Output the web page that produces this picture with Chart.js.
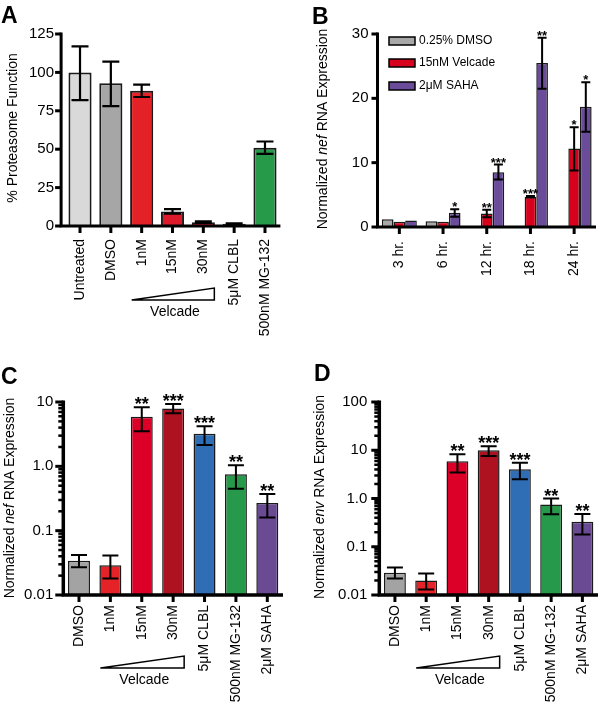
<!DOCTYPE html>
<html>
<head>
<meta charset="utf-8">
<script src="https://cdn.jsdelivr.net/npm/chart.js@4.4.1/dist/chart.umd.min.js"></script>
<style>
    body { margin: 0; background: #fff; width: 600px; height: 705px; position: relative; overflow: hidden; }
    canvas { position: absolute; }
    .letter { position: absolute; font: bold 23px Arial, "Liberation Sans", Helvetica, sans-serif; line-height: 23px; color: #000; }
</style>
</head>
<body>
<canvas id="chart-a" width="300" height="340" style="left:0;top:0"></canvas>
<canvas id="chart-b" width="310" height="330" style="left:300px;top:0"></canvas>
<canvas id="chart-c" width="300" height="375" style="left:0;top:330px"></canvas>
<canvas id="chart-d" width="310" height="375" style="left:300px;top:330px"></canvas>
<div class="letter" style="left:1px;top:4px">A</div>
<div class="letter" style="left:312px;top:5px">B</div>
<div class="letter" style="left:1px;top:365px">C</div>
<div class="letter" style="left:314px;top:362px">D</div>
<script>
var FONT = 'Arial, "Liberation Sans", Helvetica, sans-serif';

// ---- A: proteasome function
var labelsA = ['Untreated', 'DMSO', '1nM', '15nM', '30nM', '5\u03bcM CLBL', '500nM MG-132'];
var proteasomeA = [100, 93, 88, 9.5, 2.5, 1.5, 51];
var proteasomeLoA = [82, 78, 84, 8, 2, 1.2, 47];
var proteasomeHiA = [117, 107, 92, 11, 3, 1.8, 55];
var colorsA = ['#d9d9d9', '#a6a6a6', '#e42127', '#dc1a2a', '#c8142c', '#2f6db5', '#279a4a'];
var yTicksA = [0, 25, 50, 75, 100, 125];

// ---- B: nef time course
var timesB = ['3 hr.', '6 hr.', '12 hr.', '18 hr.', '24 hr.'];
var dmsoB = [1.2, 0.9, null, null, null];
var velcadeB = [0.8, 0.8, 2.1, 4.7, 12.2];
var velcadeLoB = [null, null, 1.5, 4.6, 8.8];
var velcadeHiB = [null, null, 2.7, 4.8, 15.5];
var velcadeStarsB = ['', '', '**', '***', '*'];
var sahaB = [1.0, 2.2, 8.5, 25.5, 18.7];
var sahaLoB = [null, 1.6, 7.4, 21.5, 14.8];
var sahaHiB = [null, 2.75, 9.7, 29.4, 22.5];
var sahaStarsB = ['', '*', '***', '**', '*'];
var yTicksB = [0, 10, 20, 30];

// ---- C / D: nef and env RNA
var labelsCD = ['DMSO', '1nM', '15nM', '30nM', '5\u03bcM CLBL', '500nM MG-132', '2\u03bcM SAHA'];
var colorsCD = ['#a3a3a3', '#e52228', '#dc0029', '#ae1120', '#2f6db5', '#27994a', '#6a4a93'];
var starsCD = ['', '', '**', '***', '***', '**', '**'];
var nefC = [0.034, 0.029, 5.9, 7.9, 3.2, 0.75, 0.27];
var nefLoC = [0.027, 0.018, 3.5, 6.7, 2.15, 0.45, 0.16];
var nefHiC = [0.042, 0.041, 8.3, 9.3, 4.2, 1.04, 0.37];
var decadesC = [0.01, 0.1, 1, 10];
var decadeLabelsC = ['0.01', '0.1', '1.0', '10'];
var envD = [0.029, 0.020, 5.9, 10, 4.05, 0.75, 0.33];
var envLoD = [0.022, 0.013, 3.45, 7.6, 2.5, 0.47, 0.18];
var envHiD = [0.037, 0.028, 8.3, 12.1, 5.5, 1.0, 0.48];
var decadesD = [0.01, 0.1, 1, 10, 100];
var decadeLabelsD = ['0.01', '0.1', '1.0', '10', '100'];

function logTickValues(decades) {
    var out = [];
    for (var d = 0; d < decades.length - 1; d++) {
        for (var k = 1; k < 10; k++) {
            out.push(parseFloat((decades[d] * k).toPrecision(6)));
        }
    }
    out.push(decades[decades.length - 1]);
    return out;
}

function drawTitle(ctx, x, y, parts) {
    ctx.save();
    ctx.translate(x, y);
    ctx.rotate(-Math.PI / 2);
    ctx.textBaseline = 'middle';
    ctx.textAlign = 'left';
    var total = 0;
    parts.forEach(function (p) {
        ctx.font = (p.italic ? 'italic ' : '') + '14px ' + FONT;
        p.w = ctx.measureText(p.text).width;
        total += p.w;
    });
    var pos = -total / 2;
    parts.forEach(function (p) {
        ctx.font = (p.italic ? 'italic ' : '') + '14px ' + FONT;
        ctx.fillText(p.text, pos, 0);
        pos += p.w;
    });
    ctx.restore();
}

function panelDecor(cfg) {
    return {
        id: 'decor',
        afterDatasetsDraw: function (chart) {
            var ctx = chart.ctx, area = chart.chartArea;
            var xs = chart.scales.x, ys = chart.scales.y;
            ctx.save();
            ctx.strokeStyle = '#000';
            ctx.fillStyle = '#000';

            // error bars and significance stars
            chart.data.datasets.forEach(function (ds, di) {
                chart.getDatasetMeta(di).data.forEach(function (bar, i) {
                    if (ds.data[i] == null) return;
                    var top = bar.y;
                    if (ds.errHi && ds.errHi[i] != null) {
                        var yh = ys.getPixelForValue(ds.errHi[i]);
                        var yl = ys.getPixelForValue(ds.errLo[i]);
                        ctx.lineWidth = cfg.errWidth;
                        ctx.beginPath();
                        ctx.moveTo(bar.x, yl); ctx.lineTo(bar.x, yh);
                        ctx.moveTo(bar.x - cfg.cap / 2, yh); ctx.lineTo(bar.x + cfg.cap / 2, yh);
                        ctx.moveTo(bar.x - cfg.cap / 2, yl); ctx.lineTo(bar.x + cfg.cap / 2, yl);
                        ctx.stroke();
                        top = Math.min(yh, bar.y);
                    }
                    if (ds.stars && ds.stars[i]) {
                        ctx.font = cfg.starFont;
                        ctx.textAlign = 'center';
                        ctx.textBaseline = 'alphabetic';
                        ctx.fillText(ds.stars[i], bar.x, top + cfg.starDy);
                    }
                });
            });

            // axes
            var ax = area.left - cfg.gap;
            ctx.lineWidth = cfg.axisWidth;
            ctx.beginPath();
            ctx.moveTo(ax, area.top - 1.5);
            ctx.lineTo(ax, area.bottom + cfg.axisWidth / 2);
            ctx.moveTo(ax - cfg.axisWidth / 2, area.bottom);
            ctx.lineTo(area.right, area.bottom);
            ctx.stroke();

            ys.ticks.forEach(function (t) {
                var py = ys.getPixelForValue(t.value);
                var major = cfg.yTicks.indexOf(t.value) >= 0;
                ctx.lineWidth = major ? 3 : 2.5;
                ctx.beginPath();
                ctx.moveTo(ax - (major ? cfg.majorLen : cfg.minorLen), py);
                ctx.lineTo(ax, py);
                ctx.stroke();
            });

            xs.ticks.forEach(function (t, i) {
                var px = xs.getPixelForValue(i);
                ctx.lineWidth = 3;
                ctx.beginPath();
                ctx.moveTo(px, area.bottom);
                ctx.lineTo(px, area.bottom + 7);
                ctx.stroke();
            });

            // velcade dose wedge
            if (cfg.velcade) {
                var x1 = xs.getPixelForValue(cfg.velcade[0]) - 10;
                var x2 = xs.getPixelForValue(cfg.velcade[1]) + 11;
                var yb = area.bottom + cfg.triBottom;
                ctx.lineWidth = 1.5;
                ctx.beginPath();
                ctx.moveTo(x1, yb); ctx.lineTo(x2, yb); ctx.lineTo(x2, yb - 12);
                ctx.closePath();
                ctx.stroke();
                ctx.font = '14px ' + FONT;
                ctx.textAlign = 'center';
                ctx.textBaseline = 'middle';
                ctx.fillText(cfg.groupLabel, (x1 + x2) / 2 + 2, yb + 12);
            }

            // legend (panel B)
            if (cfg.legend) {
                chart.data.datasets.forEach(function (ds, di) {
                    var ly = cfg.legend.y[di];
                    ctx.fillStyle = ds.backgroundColor;
                    ctx.fillRect(cfg.legend.x, ly - 4, 26, 8);
                    ctx.lineWidth = 1.5;
                    ctx.strokeRect(cfg.legend.x, ly - 4, 26, 8);
                    ctx.fillStyle = '#000';
                    ctx.font = '12px ' + FONT;
                    ctx.textAlign = 'left';
                    ctx.textBaseline = 'middle';
                    ctx.fillText(ds.label, cfg.legend.x + 30, ly);
                });
            }

            drawTitle(ctx, cfg.titleX, cfg.titleY, cfg.title);
            ctx.restore();
        }
    };
}

function makeChart(id, cfg) {
    var canvas = document.getElementById(id);
    var tickValues = cfg.yType === 'logarithmic' ? logTickValues(cfg.yTicks) : cfg.yTicks;
    return new Chart(canvas, {
        type: 'bar',
        data: { labels: cfg.labels, datasets: cfg.datasets },
        options: {
            responsive: false,
            animation: false,
            events: [],
            layout: {
                padding: {
                    top: cfg.area.top,
                    right: canvas.width - cfg.area.right,
                    bottom: canvas.height - cfg.area.bottom - cfg.xHeight,
                    left: 0
                }
            },
            plugins: { legend: { display: false }, tooltip: { enabled: false } },
            datasets: {
                bar: {
                    categoryPercentage: cfg.catPct,
                    barPercentage: cfg.barPct,
                    borderColor: '#1a1a1a',
                    borderWidth: cfg.borderWidth
                }
            },
            scales: {
                x: {
                    offset: true,
                    grid: { display: false, drawTicks: false },
                    border: { display: false },
                    ticks: {
                        color: '#000', font: { family: FONT, size: 14 },
                        minRotation: 90, maxRotation: 90, autoSkip: false, padding: cfg.xPad
                    },
                    afterFit: function (s) { s.height = cfg.xHeight; }
                },
                y: {
                    type: cfg.yType,
                    min: cfg.yTicks[0],
                    max: cfg.yTicks[cfg.yTicks.length - 1],
                    grid: { display: false, drawTicks: false },
                    border: { display: false },
                    afterBuildTicks: function (s) {
                        s.ticks = tickValues.map(function (v) { return { value: v }; });
                    },
                    ticks: {
                        color: '#000', font: { family: FONT, size: 15 }, autoSkip: false, padding: cfg.yPad,
                        callback: function (v) {
                            var k = cfg.yTicks.indexOf(v);
                            return k >= 0 ? cfg.yTickLabels[k] : '';
                        }
                    },
                    afterFit: function (s) { s.width = cfg.area.left; }
                }
            }
        },
        plugins: [panelDecor(cfg)]
    });
}

makeChart('chart-a', {
    labels: labelsA,
    datasets: [{ data: proteasomeA, errLo: proteasomeLoA, errHi: proteasomeHiA, backgroundColor: colorsA }],
    yType: 'linear', yTicks: yTicksA, yTickLabels: yTicksA.map(String),
    area: { left: 64.6, right: 280.4, top: 34, bottom: 226 }, xHeight: 114,
    xPad: 13, yPad: 10.6, gap: 3.5, axisWidth: 3, majorLen: 6, minorLen: 4,
    catPct: 1, barPct: 0.75, borderWidth: 2, cap: 17, errWidth: 2.2,
    starFont: 'bold 18px ' + FONT, starDy: 3,
    velcade: [2, 4], groupLabel: 'Velcade', triBottom: 74,
    titleX: 13, titleY: 128, title: [{ text: '% Proteasome Function' }]
});

makeChart('chart-b', {
    labels: timesB,
    datasets: [
        { label: '0.25% DMSO', data: dmsoB, backgroundColor: '#a8a8a8' },
        { label: '15nM Velcade', data: velcadeB, errLo: velcadeLoB, errHi: velcadeHiB, stars: velcadeStarsB, backgroundColor: '#d7001d' },
        { label: '2\u03bcM SAHA', data: sahaB, errLo: sahaLoB, errHi: sahaHiB, stars: sahaStarsB, backgroundColor: '#6a4c9a' }
    ],
    yType: 'linear', yTicks: yTicksB, yTickLabels: yTicksB.map(String),
    area: { left: 77.5, right: 296, top: 34, bottom: 227 }, xHeight: 103,
    xPad: 14, yPad: 9, gap: 0, axisWidth: 3, majorLen: 6, minorLen: 4,
    catPct: 0.8, barPct: 1, borderWidth: 1.5, cap: 9, errWidth: 2,
    starFont: 'bold 13px ' + FONT, starDy: 2,
    legend: { x: 89, y: [41, 63, 86] },
    titleX: 23, titleY: 129,
    title: [{ text: 'Normalized ' }, { text: 'nef', italic: true }, { text: ' RNA Expression' }]
});

makeChart('chart-c', {
    labels: labelsCD,
    datasets: [{ data: nefC, errLo: nefLoC, errHi: nefHiC, stars: starsCD, backgroundColor: colorsCD }],
    yType: 'logarithmic', yTicks: decadesC, yTickLabels: decadeLabelsC,
    area: { left: 63.3, right: 283, top: 72, bottom: 265 }, xHeight: 110,
    xPad: 10, yPad: 10, gap: 0, axisWidth: 3.5, majorLen: 8, minorLen: 5,
    catPct: 1, barPct: 0.7, borderWidth: 1.5, cap: 16, errWidth: 2,
    starFont: 'bold 18px ' + FONT, starDy: 3,
    velcade: [1, 3], groupLabel: 'Velcade', triBottom: 73,
    titleX: 10, titleY: 168,
    title: [{ text: 'Normalized ' }, { text: 'nef', italic: true }, { text: ' RNA Expression' }]
});

makeChart('chart-d', {
    labels: labelsCD,
    datasets: [{ data: envD, errLo: envLoD, errHi: envHiD, stars: starsCD, backgroundColor: colorsCD }],
    yType: 'logarithmic', yTicks: decadesD, yTickLabels: decadeLabelsD,
    area: { left: 79.3, right: 298.7, top: 72, bottom: 265 }, xHeight: 110,
    xPad: 10, yPad: 12, gap: 0, axisWidth: 3.5, majorLen: 8, minorLen: 5,
    catPct: 1, barPct: 0.7, borderWidth: 1.5, cap: 16, errWidth: 2,
    starFont: 'bold 18px ' + FONT, starDy: 3,
    velcade: [1, 3], groupLabel: 'Velcade', triBottom: 73,
    titleX: 20, titleY: 167,
    title: [{ text: 'Normalized ' }, { text: 'env', italic: true }, { text: ' RNA Expression' }]
});
</script>
</body>
</html>
